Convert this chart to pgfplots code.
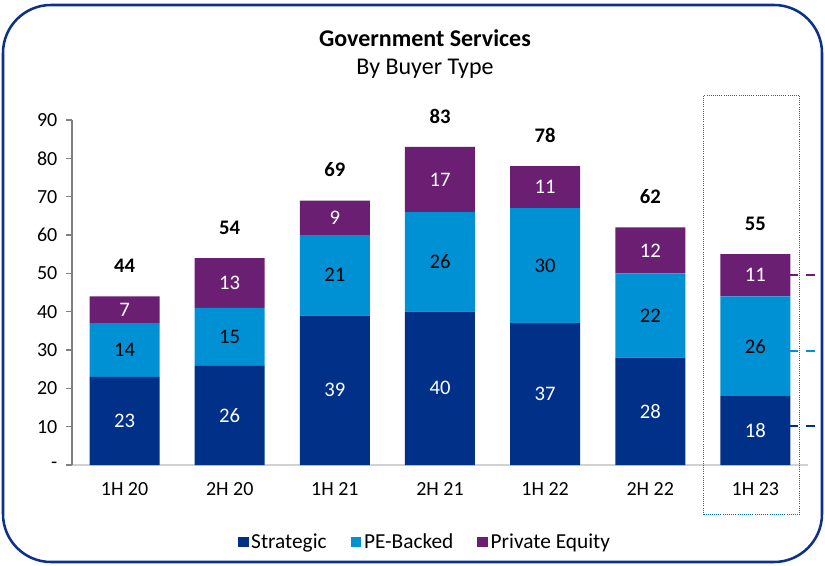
\documentclass[border=0pt]{standalone}
\usepackage{fontspec}
\setmainfont{Carlito}
\usepackage{pgfplots}
\pgfplotsset{compat=1.18}
\definecolor{strat}{RGB}{0,48,135}
\definecolor{pebk}{RGB}{0,145,213}
\definecolor{pequ}{RGB}{107,31,115}
\definecolor{framec}{RGB}{12,48,140}
\definecolor{boxblue}{RGB}{0,112,192}

\begin{document}
\begin{tikzpicture}
\useasboundingbox (0,0) rectangle (618.75pt,423.75pt);
\draw[framec, line width=1.9pt, rounded corners=36pt] (2.25pt,2.25pt) rectangle (616.5pt,420pt);
\node[font=\fontsize{18}{21}\selectfont\bfseries] at (318.75pt,395pt) {Government Services};
\node[font=\fontsize{18}{21}\selectfont] at (318.75pt,372pt) {By Buyer Type};
\begin{axis}[
    at={(54pt,75pt)}, anchor=south west,
    scale only axis, width=552pt, height=258.75pt,
    ybar stacked, bar width=52.5pt,
    xmin=-0.5, xmax=6.5, ymin=0, ymax=90,
    clip=false,
    axis x line*=bottom, axis y line*=left,
    x axis line style={draw=black!18, line width=0.9pt, -},
    y axis line style={draw=black!50, line width=0.9pt, -},
    xtick=data,
    xticklabels={1H 20,2H 20,1H 21,2H 21,1H 22,2H 22,1H 23},
    xtick style={draw=none},
    ytick={0,10,20,30,40,50,60,70,80,90},
    yticklabels={-,10,20,30,40,50,60,70,80,90},
    ytick style={draw=black!50, line width=0.9pt},
    tick align=outside, major tick length=4.5pt,
    ticklabel style={font=\fontsize{15}{17}\selectfont},
    x tick label style={yshift=-5pt},
    y tick label style={xshift=-3pt},
    /pgf/number format/assume math mode=true,
    legend style={at={(0.48,-0.223)}, anchor=center, draw=none,
        legend columns=3, font=\fontsize{16}{18}\selectfont,
        /tikz/every even column/.append style={column sep=16pt}},
    legend image code/.code={\fill[#1] (0pt,-4pt) rectangle (8pt,4pt);},
]
\addplot[fill=strat, draw=none, point meta=rawy, nodes near coords,
    every node near coord/.style={anchor=center, text=white, font=\fontsize{15.5}{17}\selectfont}]
    coordinates {(0,23) (1,26) (2,39) (3,40) (4,37) (5,28) (6,18)};
\addplot[fill=pebk, draw=none, point meta=rawy, nodes near coords,
    every node near coord/.style={anchor=center, text=black, font=\fontsize{15.5}{17}\selectfont}]
    coordinates {(0,14) (1,15) (2,21) (3,26) (4,30) (5,22) (6,26)};
\addplot[fill=pequ, draw=none, point meta=rawy, nodes near coords,
    every node near coord/.style={anchor=center, text=white, font=\fontsize{15.5}{17}\selectfont}]
    coordinates {(0,7) (1,13) (2,9) (3,17) (4,11) (5,12) (6,11)};
\legend{Strategic, PE-Backed, Private Equity}
\draw[boxblue, line width=0.8pt, dash pattern=on 0.7pt off 0.9pt] (axis cs:5.51,-13) rectangle (axis cs:6.42,96.5);
\draw[pequ, line width=1.3pt, dash pattern=on 7pt off 6pt] (axis cs:6.315,49.6) -- (axis cs:6.6,49.6);
\draw[pebk, line width=1.3pt, dash pattern=on 7pt off 6pt] (axis cs:6.315,29.8) -- (axis cs:6.6,29.8);
\draw[strat, line width=1.3pt, dash pattern=on 7pt off 6pt] (axis cs:6.315,10.2) -- (axis cs:6.6,10.2);
\end{axis}
% totals above the bars
\begin{axis}[
    at={(54pt,75pt)}, anchor=south west,
    scale only axis, width=552pt, height=258.75pt,
    xmin=-0.5, xmax=6.5, ymin=0, ymax=90,
    hide axis, clip=false,
    /pgf/number format/assume math mode=true,
]
\addplot[draw=none, mark=none, nodes near coords, point meta=y,
    every node near coord/.style={anchor=south, text=black, yshift=14pt,
        font=\fontsize{15.5}{17}\selectfont\bfseries}]
    coordinates {(0,44) (1,54) (2,69) (3,83) (4,78) (5,62) (6,55)};
\end{axis}
\end{tikzpicture}
\end{document}
